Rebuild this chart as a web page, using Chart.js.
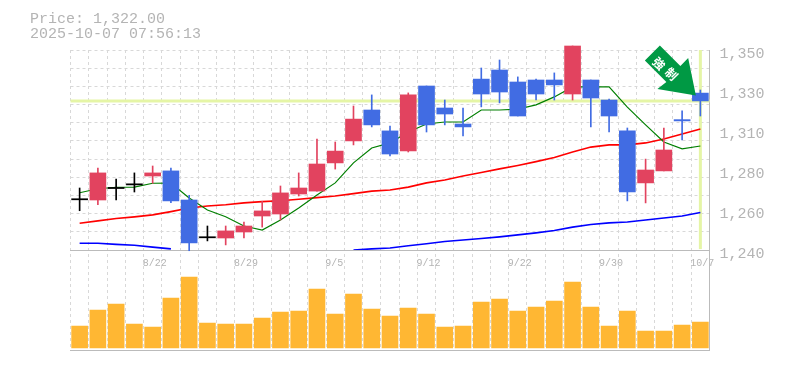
<!DOCTYPE html>
<html><head><meta charset="utf-8">
<style>html,body{margin:0;padding:0;background:#fff}canvas{display:block}</style>
<script src="https://cdn.jsdelivr.net/npm/chart.js@4/dist/chart.umd.min.js"></script>
</head><body><canvas id="c" width="785" height="370"></canvas>
<script>
const titleLines=['Price: 1,322.00','2025-10-07 07:56:13'];
const categories=['8/18','8/19','8/20','8/21','8/22','8/25','8/26','8/27','8/28','8/29','9/1','9/2','9/3','9/4','9/5','9/8','9/9','9/10','9/11','9/12','9/16','9/17','9/18','9/19','9/22','9/24','9/25','9/26','9/29','9/30','10/1','10/2','10/3','10/6','10/7'];
const shownDates=['8/22','8/29','9/5','9/12','9/22','9/30','10/7'];
const priceTicks=[1350,1328,1306,1284,1262,1240];
const gridTicks=[1350,1340,1330,1320,1310,1300,1290,1280,1270,1260,1250,1240];
const lastPrice=1322;
const open=[1267.9,1267.5,1274.1,1276.1,1280.7,1283.5,1267.5,1247,1246.6,1249.9,1258.7,1259.8,1270.8,1272.4,1287.9,1300,1317,1305.5,1294.5,1330.2,1318.1,1309.3,1334,1339,1332.4,1333.5,1333.5,1325.8,1333.5,1322.5,1305.5,1276.9,1283.5,1311.7,1326.3];
const close=[1267.9,1282.4,1274.1,1276.1,1282.4,1267,1243.9,1247,1250.5,1253.2,1261.5,1271.4,1274.1,1287.3,1294.4,1312,1308.8,1292.8,1325.3,1308.8,1314.8,1307.7,1325.8,1326.9,1313.7,1325.8,1330.8,1352.2,1323.6,1313.7,1271.9,1284,1295,1311,1322];
const high=[1274.1,1285.1,1279,1282.4,1286.2,1285.1,1270.1,1253.2,1253.2,1255.4,1266.8,1275.2,1282.4,1301,1299.4,1319.2,1325.3,1308.2,1326.4,1330.2,1322.5,1318.1,1340.1,1344.5,1335.2,1334,1337.4,1352.2,1333.5,1323,1307.1,1290,1307.1,1316.5,1328];
const low=[1261.6,1264.9,1267.5,1271.9,1276.7,1266,1239.6,1245,1242.8,1246.6,1252.6,1256.5,1269.7,1272.4,1284.5,1297.8,1307.7,1291.7,1293.9,1304.9,1308.8,1302.7,1318.7,1320.9,1313.7,1322.5,1322.5,1322.5,1307.7,1304.9,1267,1265.9,1283.5,1300.5,1313.7];
const maShort=[1271.5,1273.7,1274.5,1274.6,1276.7,1276.8,1268.6,1262,1258.3,1253.2,1251,1256.5,1263.1,1270.3,1276.9,1287.9,1296.1,1298.9,1304.9,1309.3,1310.4,1310.4,1317,1317,1317.5,1319.8,1324.2,1329.7,1329.7,1329.7,1318.6,1308.8,1299.4,1295.6,1297.2];
const maMid=[1254.7,1256,1257.3,1258.2,1259.3,1261.1,1263.1,1264.2,1264.9,1265.9,1266.6,1267.1,1267.9,1268.8,1269.7,1271,1272.4,1273,1274.6,1276.9,1278.5,1280.7,1282.6,1284.6,1286.5,1288.6,1290.9,1293.9,1296.6,1297.8,1297.8,1298.9,1301,1303.8,1306.6];
const maLong=[1243.7,1243.7,1243.1,1242.6,1241.6,1240.6,null,null,null,null,null,null,null,null,null,1240,1240.6,1241.1,1242.3,1243.4,1244.7,1245.5,1246.3,1247.2,1248.3,1249.4,1250.7,1252.6,1254,1254.9,1255.4,1256.5,1257.6,1258.7,1260.6];
const volume=[220,380,440,240,210,500,710,250,240,240,300,360,370,590,340,540,390,320,400,340,210,220,460,490,370,410,470,660,410,220,370,170,170,230,260];

const redC='#e2435f',blueC='#416ce3',blackC='#000000',highlight='#e5f5a6',greyT='#b4b4b4',lineC='#bbbbbb',gridC='#d8d8d8';
const colours=categories.map((_,i)=>open[i]===close[i]?blackC:(close[i]>open[i]?redC:blueC));
const bodies=categories.map((_,i)=>open[i]===close[i]?[open[i]-0.3,open[i]+0.3]:[open[i],close[i]]);
const wicks=categories.map((_,i)=>[low[i],high[i]]);
const font='"Liberation Mono", monospace';
const lastIdx=categories.length-1;

const overlay={id:'overlay',afterDatasetsDraw(ch){
  const c=ch.ctx;
  c.save();
  c.fillStyle=greyT;c.font='15px '+font;c.textAlign='left';c.textBaseline='alphabetic';
  titleLines.forEach((t,i)=>c.fillText(t,30,23+15*i));
  const tx=ch.scales.xLine.getPixelForValue(lastIdx)-4.5, ty=ch.scales.yPrice.getPixelForValue(lastPrice)-5.5;
  const rel=[[0,0],[-7.7,-37.5],[-15.5,-29.5],[-36,-50],[-51,-35],[-29.5,-13.5],[-38.5,-6.5]];
  c.fillStyle='#009944';c.beginPath();
  rel.forEach((p,i)=>i?c.lineTo(tx+p[0],ty+p[1]):c.moveTo(tx+p[0],ty+p[1]));
  c.closePath();c.fill();
  c.fillStyle='#fff';c.font='bold 12px "Noto Sans CJK JP"';c.textAlign='center';c.textBaseline='middle';
  [['強',-37,-32],['制',-24.5,-21.5]].forEach(([s,dx,dy])=>{
    c.save();c.translate(tx+dx,ty+dy);c.rotate(Math.PI/4);c.fillText(s,0,0);c.restore();
  });
  c.restore();
}};
const lineBase={type:'line',xAxisID:'x',yAxisID:'yPrice',pointRadius:0,tension:0,spanGaps:false,fill:false};
new Chart(document.getElementById('c'),{
  data:{labels:categories,datasets:[
    {type:'line',xAxisID:'xLine',yAxisID:'yPrice',data:[{x:-0.5,y:lastPrice},{x:lastIdx+0.5,y:lastPrice}],borderColor:highlight,borderWidth:3,pointRadius:0,order:9,clip:false},
    {type:'line',xAxisID:'xLine',yAxisID:'yPrice',data:[{x:lastIdx,y:1240.5},{x:lastIdx,y:1350}],borderColor:highlight,borderWidth:3,pointRadius:0,order:9,clip:false},
    {...lineBase,data:maLong,borderColor:'#0000ff',borderWidth:1.6,order:8},
    {...lineBase,data:maMid,borderColor:'#ff0000',borderWidth:1.6,order:7},
    {...lineBase,data:maShort,borderColor:'#007f00',borderWidth:1.2,order:6},
    {type:'bar',xAxisID:'x',yAxisID:'yPrice',data:wicks,backgroundColor:colours,barThickness:1,grouped:false,order:3,clip:false},
    {type:'bar',xAxisID:'x',yAxisID:'yPrice',data:bodies,backgroundColor:colours,barThickness:16,grouped:false,order:2,clip:false},
    {type:'bar',xAxisID:'x',yAxisID:'yVol',data:volume,backgroundColor:'#ffb733',barThickness:16,grouped:false,order:1}
  ]},
  plugins:[overlay],
  options:{
    responsive:false,animation:false,
    layout:{padding:{left:70.5,top:50,right:0,bottom:20}},
    plugins:{legend:{display:false},title:{display:false},tooltip:{enabled:false}},
    scales:{
      x:{type:'category',position:{yVol:980},
        grid:{color:gridC,offset:true,drawTicks:false,lineWidth:1},
        border:{color:lineC,dash:[3,3]},
        ticks:{autoSkip:false,maxRotation:0,minRotation:0,align:'start',labelOffset:-10,padding:7,color:greyT,font:{family:font,size:10},
          callback(v){const s=this.getLabelForValue(v);return shownDates.includes(s)?s:'';}}},
      xBottom:{type:'category',position:'bottom',grid:{display:false},border:{color:lineC},ticks:{display:false},afterFit(s){s.height=0;}},
      xLine:{type:'linear',display:false,min:-0.5,max:lastIdx+0.5},
      yPrice:{type:'linear',position:'right',stack:'panes',stackWeight:2,weight:1,min:1240,max:1350,
        afterBuildTicks(s){s.ticks=[...new Set([...gridTicks,...priceTicks])].sort((a,b)=>a-b).map(value=>({value}));},
        afterFit(s){s.width=75.5;},
        grid:{drawTicks:false,color:c=>gridTicks.includes(c.tick&&c.tick.value)?gridC:'rgba(0,0,0,0)'},
        border:{color:lineC,dash:[3,3]},
        ticks:{autoSkip:false,padding:10,labelOffset:4,color:greyT,font:{family:font,size:15},
          callback(v){return priceTicks.includes(v)?(Math.round(v/10)*10).toLocaleString('en-US'):'';}}},
      yVol:{type:'linear',position:'right',stack:'panes',stackWeight:1,weight:2,min:-20,max:980,
        afterFit(s){s.width=75.5;},
        grid:{display:false},border:{color:lineC},ticks:{display:false}}
    }
  }
});
</script>
</body></html>
